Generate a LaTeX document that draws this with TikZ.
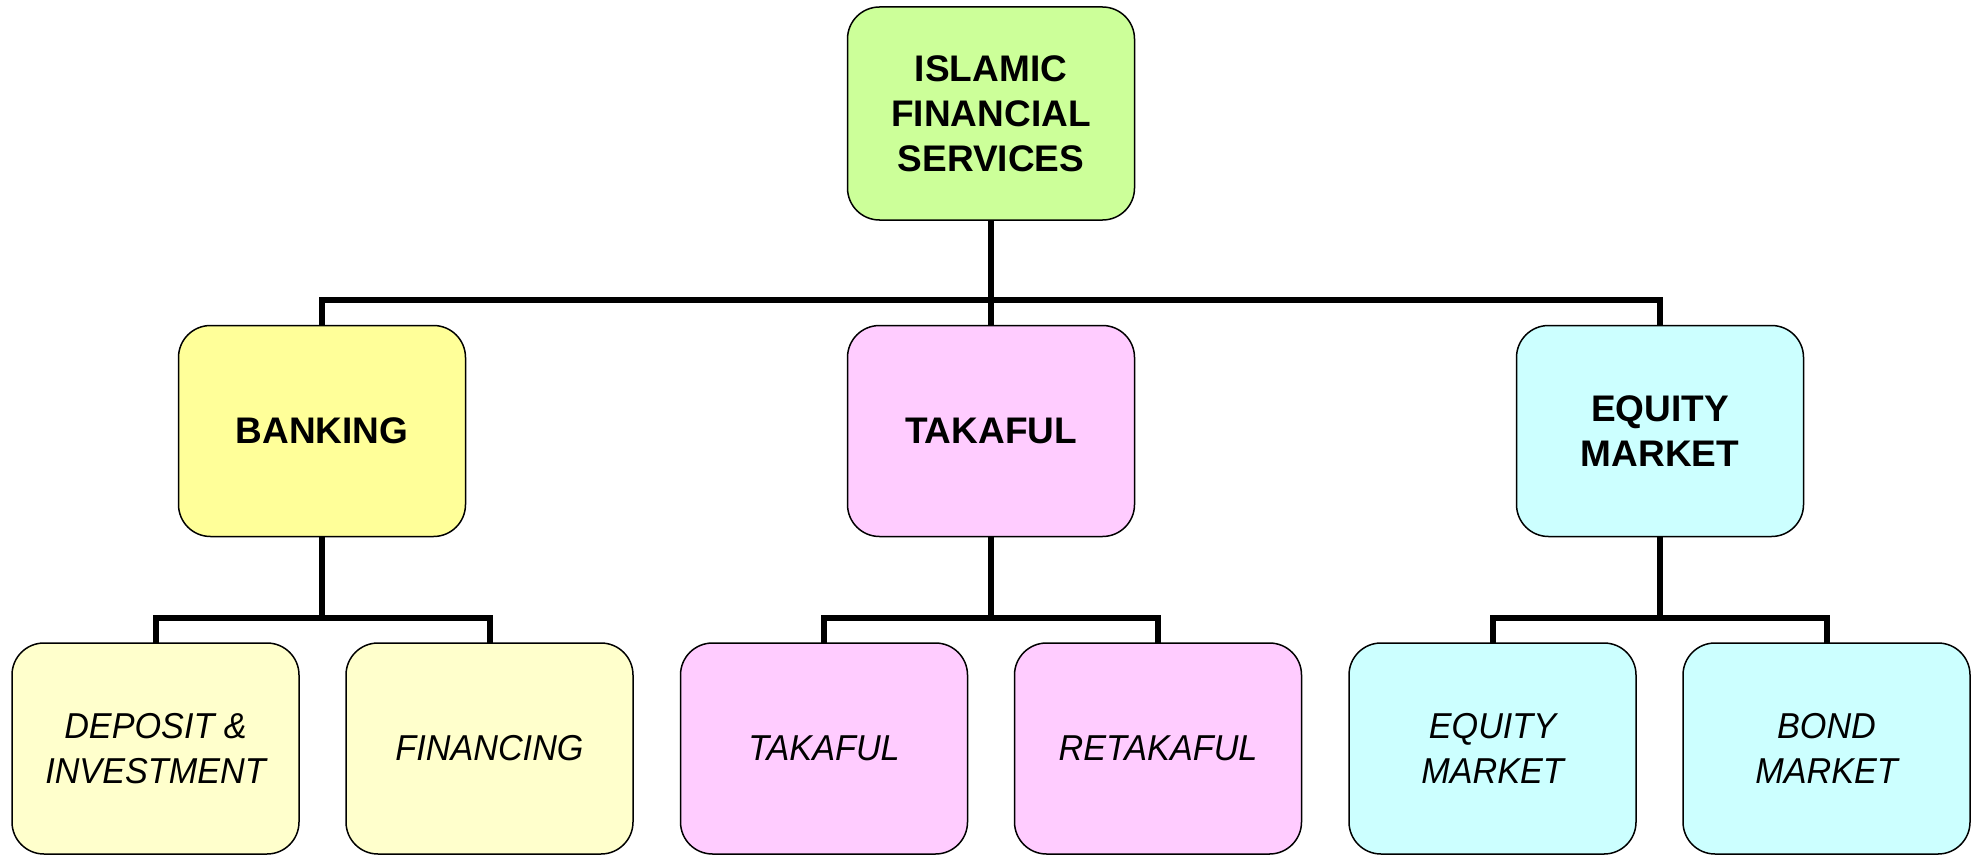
\documentclass[tikz,border=0pt]{standalone}
\usepackage{fontspec}
\setmainfont{Liberation Sans}
\newfontfamily\leaffont{Liberation Sans}[FakeStretch=0.95]
\pgfdeclarelayer{background}
\pgfsetlayers{background,main}
\begin{document}
\begin{tikzpicture}[x=1pt,y=-1pt,
  box/.style={draw=black, line width=1.5pt, rounded corners=32pt,
    minimum width=287pt, minimum height=211pt, inner sep=0pt,
    align=center},
  headbox/.style={box, font=\fontsize{37}{45}\selectfont\bfseries},
  leafbox/.style={box, font=\leaffont\fontsize{36}{45}\selectfont\itshape},
  conn/.style={draw=black, line width=6pt, line join=miter, line cap=rect}]
\definecolor{rootgreen}{HTML}{CCFF99}
\definecolor{bankyellow}{HTML}{FFFF99}
\definecolor{leafyellow}{HTML}{FFFFCC}
\definecolor{pinkfill}{HTML}{FFCCFF}
\definecolor{cyanfill}{HTML}{CCFFFF}
\useasboundingbox (0,0) rectangle (1977,856);

% top level
\node[headbox, fill=rootgreen, minimum height=213pt] (root) at (991,113.5)
  {ISLAMIC\\FINANCIAL\\SERVICES};

% second level
\node[headbox, fill=bankyellow] (bank) at (322,431) {BANKING};
\node[headbox, fill=pinkfill] (tak) at (991,431) {TAKAFUL};
\node[headbox, fill=cyanfill] (eq) at (1660,431) {EQUITY\\MARKET};

% third level
\node[leafbox, fill=leafyellow] (dep) at (155.5,748.5) {DEPOSIT \&\\INVESTMENT};
\node[leafbox, fill=leafyellow] (fin) at (489.5,748.5) {FINANCING};
\node[leafbox, fill=pinkfill] (tk) at (824,748.5) {TAKAFUL};
\node[leafbox, fill=pinkfill] (rtk) at (1158,748.5) {RETAKAFUL};
\node[leafbox, fill=cyanfill] (em) at (1492.5,748.5) {EQUITY\\MARKET};
\node[leafbox, fill=cyanfill] (bm) at (1826.5,748.5) {BOND\\MARKET};

% heights of the two horizontal bars
\coordinate (topbus) at (991,300);
\coordinate (lowbus) at (991,618);

% tree connectors, behind the boxes
\begin{pgfonlayer}{background}
  \path[conn] (root.south) -- (root.south |- topbus) -| (bank.north);
  \path[conn] (root.south) -- (root.south |- topbus) -| (eq.north);
  \path[conn] (root.south) -- (tak.north);

  \path[conn] (bank.south) -- (bank.south |- lowbus) -| (dep.north);
  \path[conn] (bank.south) -- (bank.south |- lowbus) -| (fin.north);
  \path[conn] (tak.south) -- (tak.south |- lowbus) -| (tk.north);
  \path[conn] (tak.south) -- (tak.south |- lowbus) -| (rtk.north);
  \path[conn] (eq.south) -- (eq.south |- lowbus) -| (em.north);
  \path[conn] (eq.south) -- (eq.south |- lowbus) -| (bm.north);
\end{pgfonlayer}
\end{tikzpicture}
\end{document}
